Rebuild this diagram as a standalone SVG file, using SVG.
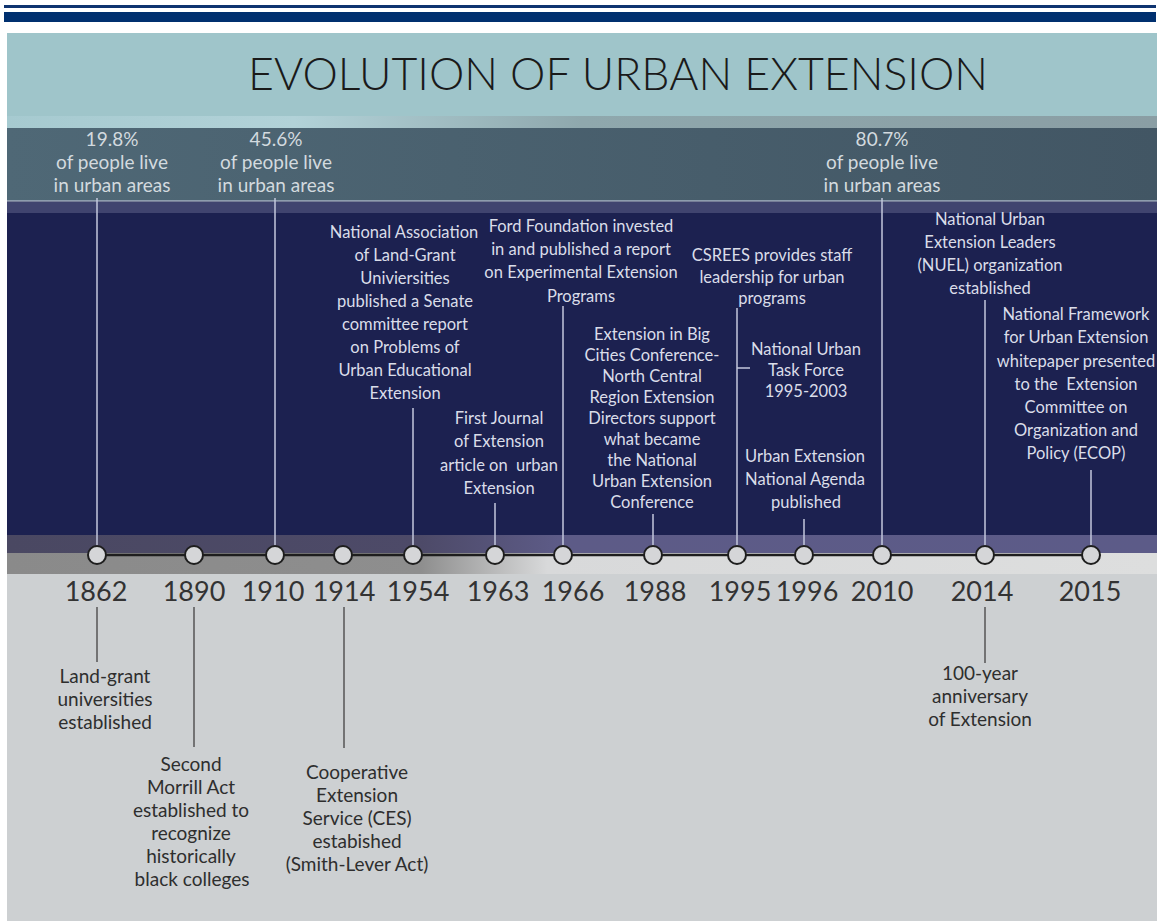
<svg xmlns="http://www.w3.org/2000/svg" width="1159" height="921" viewBox="0 0 1159 921">
<defs>
<linearGradient id="gStats" x1="0" y1="0" x2="1" y2="0">
<stop offset="0" stop-color="#4f6876"/><stop offset="1" stop-color="#425664"/>
</linearGradient>
<linearGradient id="gTealBot" x1="0" y1="0" x2="1" y2="0">
<stop offset="0" stop-color="#a6cad0"/><stop offset="0.25" stop-color="#b2d2d8"/><stop offset="0.5" stop-color="#8fa8ad"/><stop offset="1" stop-color="#8a9ea4"/>
</linearGradient>
<linearGradient id="gBand" x1="0" y1="0" x2="1" y2="0">
<stop offset="0" stop-color="#4a4862"/><stop offset="0.36" stop-color="#4d4a68"/><stop offset="0.48" stop-color="#5d5b87"/><stop offset="1" stop-color="#5c5b88"/>
</linearGradient>
<linearGradient id="gLow" x1="0" y1="0" x2="1" y2="0">
<stop offset="0" stop-color="#8a8a8a"/><stop offset="0.36" stop-color="#8e8e8e"/><stop offset="0.47" stop-color="#d8d9da"/><stop offset="1" stop-color="#dddede"/>
</linearGradient>
<style>
.up{font-family:Lato,"Liberation Sans",sans-serif;font-size:16.5px;fill:#dadde9;text-anchor:middle;white-space:pre}
.st{font-family:Lato,"Liberation Sans",sans-serif;font-size:19px;fill:#d3dadf;text-anchor:middle}
.lo{font-family:Lato,"Liberation Sans",sans-serif;font-size:19px;fill:#2e2e2e;text-anchor:middle}
.yr{font-family:Lato,"Liberation Sans",sans-serif;font-size:27px;fill:#333;text-anchor:middle}
.cu{stroke:#c3c7dc;stroke-width:1.5;fill:none}
.cl{stroke:#555;stroke-width:1.5;fill:none}
.dot{fill:#d5d6d8;stroke:#1e1e1e;stroke-width:2}
</style>
</defs>
<rect x="0" y="0" width="1159" height="921" fill="#ffffff"/>
<rect x="4" y="5" width="1152" height="3" fill="#0f3470"/>
<rect x="4" y="12" width="1152" height="10" fill="#00306f"/>
<g id="background">
<rect x="7" y="33" width="1150" height="888" fill="#cdd0d2"/>
<rect x="7" y="33" width="1150" height="95" fill="#9fc5ca"/>
<rect x="7" y="116" width="1150" height="12" fill="url(#gTealBot)"/>
<rect x="7" y="128" width="1150" height="72" fill="url(#gStats)"/>
<rect x="7" y="200" width="1150" height="1.5" fill="#8d9cad"/>
<rect x="7" y="201.5" width="1150" height="11.5" fill="#40446f"/>
<rect x="7" y="213" width="1150" height="322" fill="#1c2150"/>
<rect x="7" y="535" width="1150" height="18" fill="url(#gBand)"/>
<rect x="7" y="553" width="1150" height="21" fill="url(#gLow)"/>
</g>
<text id="title" x="618" y="90" font-family="Lato,'Liberation Sans',sans-serif" font-size="46" font-weight="300" fill="#1a1a1a" text-anchor="middle" textLength="740" lengthAdjust="spacingAndGlyphs">EVOLUTION OF URBAN EXTENSION</text>
<g id="connectors">
<line class="cu" x1="97" y1="198" x2="97" y2="546"/>
<line class="cu" x1="275" y1="198" x2="275" y2="546"/>
<line class="cu" x1="413" y1="408" x2="413" y2="546"/>
<line class="cu" x1="495" y1="503" x2="495" y2="546"/>
<line class="cu" x1="563" y1="306" x2="563" y2="546"/>
<line class="cu" x1="653" y1="514" x2="653" y2="546"/>
<line class="cu" x1="737" y1="308" x2="737" y2="546"/>
<line class="cu" x1="737" y1="368" x2="750" y2="368"/>
<line class="cu" x1="804" y1="519" x2="804" y2="546"/>
<line class="cu" x1="882" y1="198" x2="882" y2="546"/>
<line class="cu" x1="985" y1="300" x2="985" y2="546"/>
<line class="cu" x1="1091" y1="470" x2="1091" y2="546"/>
<line class="cl" x1="97" y1="607" x2="97" y2="662"/>
<line class="cl" x1="194" y1="607" x2="194" y2="747"/>
<line class="cl" x1="344" y1="607" x2="344" y2="748"/>
<line class="cl" x1="985" y1="607" x2="985" y2="663"/>
<line x1="97" y1="555" x2="1091" y2="555" stroke="#1e1e1e" stroke-width="2.5"/>
</g>
<g id="y1862"><circle class="dot" cx="97" cy="555" r="9"/><text class="yr" x="96" y="601">1862</text>
<text class="st" x="112" y="146">19.8%</text><text class="st" x="112" y="169">of people live</text><text class="st" x="112" y="192">in urban areas</text>
<text class="lo" x="105" y="683">Land-grant</text><text class="lo" x="105" y="706">universities</text><text class="lo" x="105" y="729">established</text></g>
<g id="y1890"><circle class="dot" cx="194" cy="555" r="9"/><text class="yr" x="194" y="601">1890</text>
<text class="lo" x="191" y="771">Second</text><text class="lo" x="191" y="794">Morrill Act</text><text class="lo" x="191" y="817">established to</text><text class="lo" x="191" y="840">recognize</text><text class="lo" x="191" y="863">historically</text><text class="lo" x="192" y="886">black colleges</text></g>
<g id="y1910"><circle class="dot" cx="275" cy="555" r="9"/><text class="yr" x="273" y="601">1910</text>
<text class="st" x="276" y="146">45.6%</text><text class="st" x="276" y="169">of people live</text><text class="st" x="276" y="192">in urban areas</text></g>
<g id="y1914"><circle class="dot" cx="343" cy="555" r="9"/><text class="yr" x="344" y="601">1914</text>
<text class="lo" x="357" y="779">Cooperative</text><text class="lo" x="357" y="802">Extension</text><text class="lo" x="357" y="825">Service (CES)</text><text class="lo" x="357" y="848">estabished</text><text class="lo" x="357" y="871">(Smith-Lever Act)</text></g>
<g id="y1954"><circle class="dot" cx="413" cy="555" r="9"/><text class="yr" x="418" y="601">1954</text>
<text class="up" x="404" y="238">National Association</text><text class="up" x="405" y="261">of Land-Grant</text><text class="up" x="405" y="284">Univiersities</text><text class="up" x="405" y="307">published a Senate</text><text class="up" x="405" y="330">committee report</text><text class="up" x="405" y="353">on Problems of</text><text class="up" x="405" y="376">Urban Educational</text><text class="up" x="405" y="399">Extension</text></g>
<g id="y1963"><circle class="dot" cx="495" cy="555" r="9"/><text class="yr" x="498" y="601">1963</text>
<text class="up" x="499" y="424">First Journal</text><text class="up" x="499" y="447">of Extension</text><text class="up" x="499" y="471" xml:space="preserve">article on  urban</text><text class="up" x="499" y="494">Extension</text></g>
<g id="y1966"><circle class="dot" cx="563" cy="555" r="9"/><text class="yr" x="573" y="601">1966</text>
<text class="up" x="581" y="232">Ford Foundation invested</text><text class="up" x="581" y="255">in and published a report</text><text class="up" x="581" y="278">on Experimental Extension</text><text class="up" x="581" y="302">Programs</text></g>
<g id="y1988"><circle class="dot" cx="653" cy="555" r="9"/><text class="yr" x="655" y="601">1988</text>
<text class="up" x="652" y="340">Extension in Big</text><text class="up" x="652" y="361">Cities Conference-</text><text class="up" x="652" y="382">North Central</text><text class="up" x="652" y="403">Region Extension</text><text class="up" x="652" y="424">Directors support</text><text class="up" x="652" y="445">what became</text><text class="up" x="652" y="466">the National</text><text class="up" x="652" y="487">Urban Extension</text><text class="up" x="652" y="508">Conference</text></g>
<g id="y1995"><circle class="dot" cx="737" cy="555" r="9"/><text class="yr" x="740" y="601">1995</text>
<text class="up" x="772" y="261">CSREES provides staff</text><text class="up" x="772" y="283">leadership for urban</text><text class="up" x="772" y="304">programs</text>
<text class="up" x="806" y="355">National Urban</text><text class="up" x="806" y="376">Task Force</text><text class="up" x="806" y="397">1995-2003</text></g>
<g id="y1996"><circle class="dot" cx="804" cy="555" r="9"/><text class="yr" x="807" y="601">1996</text>
<text class="up" x="805" y="462">Urban Extension</text><text class="up" x="805" y="485">National Agenda</text><text class="up" x="806" y="508">published</text></g>
<g id="y2010"><circle class="dot" cx="882" cy="555" r="9"/><text class="yr" x="882" y="601">2010</text>
<text class="st" x="882" y="146">80.7%</text><text class="st" x="882" y="169">of people live</text><text class="st" x="882" y="192">in urban areas</text></g>
<g id="y2014"><circle class="dot" cx="985" cy="555" r="9"/><text class="yr" x="982" y="601">2014</text>
<text class="up" x="990" y="225">National Urban</text><text class="up" x="990" y="248">Extension Leaders</text><text class="up" x="990" y="271">(NUEL) organization</text><text class="up" x="990" y="294">established</text>
<text class="lo" x="980" y="680">100-year</text><text class="lo" x="980" y="703">anniversary</text><text class="lo" x="980" y="726">of Extension</text></g>
<g id="y2015"><circle class="dot" cx="1091" cy="555" r="9"/><text class="yr" x="1090" y="601">2015</text>
<text class="up" x="1076" y="320">National Framework</text><text class="up" x="1076" y="343">for Urban Extension</text><text class="up" x="1076" y="367">whitepaper presented</text><text class="up" x="1076" y="390" xml:space="preserve">to the  Extension</text><text class="up" x="1076" y="413">Committee on</text><text class="up" x="1076" y="436">Organization and</text><text class="up" x="1076" y="459">Policy (ECOP)</text></g>
</svg>
